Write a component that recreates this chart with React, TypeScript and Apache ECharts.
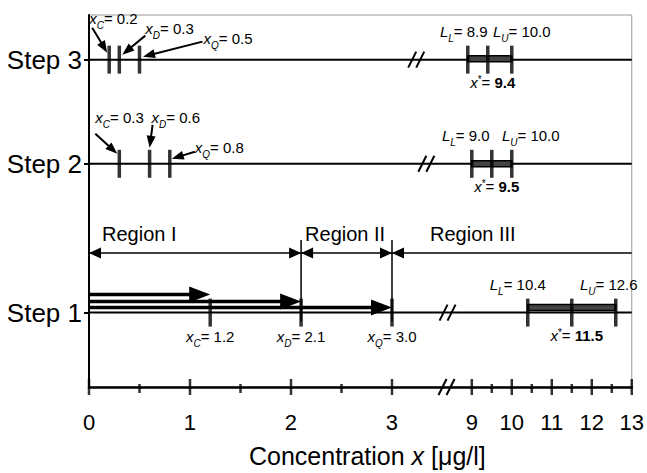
import React, { useEffect, useRef } from "react";
import * as echarts from "echarts";

// ---------------- data ----------------
const steps = ["Step 1", "Step 2", "Step 3"];
const xC = [1.2, 0.3, 0.2];
const xD = [2.1, 0.6, 0.3];
const xQ = [3.0, 0.8, 0.5];
const lowerLimit = [10.4, 9.0, 8.9];
const upperLimit = [12.6, 10.0, 10.0];
const xStar = [11.5, 9.5, 9.4];
const majorTicks = [0, 1, 2, 3, 9, 10, 11, 12, 13];
const minorTicks = [0.5, 1.5, 2.5, 9.5, 10.5, 11.5, 12.5];
const regionNames = ["Region I", "Region II", "Region III"];
const xMin = 0;
const xMax = 13;
const subNames = ["C", "D", "Q"];

// ---------------- layout (broken axis scale, rows, offsets) ----------------
const F = "'Liberation Sans', Arial, sans-serif";
const LOW_END = 3;
const HIGH_START = 9;
const U_HIGH_START = 3.79;
const HIGH_SCALE = 0.396;
const toU = (x: number) => (x <= LOW_END ? x : U_HIGH_START + (x - HIGH_START) * HIGH_SCALE);
const U_MIN = toU(xMin);
const U_MAX = toU(xMax);
const LEVEL = [20, 60, 88];
const REGION_LEVEL = 36;
const BREAK_U = [3.55, 3.34, 3.24];
const AXIS_BREAK_U = 3.54;

// label/arrow offsets (px) relative to tick centre, for Step 2 and Step 3
const ANNOT: any = {
  1: [
    { lx: -24, ly: -45, sx: -24, sy: -30, ex: -2, ey: -10 },
    { lx: 2, ly: -45, sx: 3, sy: -39, ex: 0, ey: -16 },
    { lx: 25, ly: -15, sx: 25, sy: -12, ex: 2, ey: -5 },
  ],
  2: [
    { lx: -20, ly: -40, sx: -17, sy: -32, ex: -2, ey: -7 },
    { lx: 26, ly: -30, sx: 26, sy: -24, ex: 3, ey: -5 },
    { lx: 64, ly: -20, sx: 63, sy: -18, ex: 3.5, ey: -3 },
  ],
};
const LL_DX = [-10, -6, -4];
const LU_DX = [-7, 19, 10];
const BAR_DY = [-5, 0, -1];
const S1_ARROW_DY = [-18, -11, -5];
const REGION_LABEL_DX = [13, 4, 38];

const rich: any = {
  n: { fontSize: 15, fontFamily: F, fill: "#000", lineHeight: 18, verticalAlign: "top" },
  i: { fontSize: 15, fontFamily: F, fontStyle: "italic", fill: "#000", lineHeight: 18, verticalAlign: "top" },
  b: { fontSize: 15, fontFamily: F, fontWeight: "bold", fill: "#000", lineHeight: 18, verticalAlign: "top" },
  sub: { fontSize: 10, fontFamily: F, fontStyle: "italic", fill: "#000", lineHeight: 10, padding: [10, 0, 0, 0], verticalAlign: "top" },
  sup: { fontSize: 10, fontFamily: F, fill: "#000", lineHeight: 10, verticalAlign: "top" },
};

function txt(x: number, cy: number, text: string, align: string) {
  return {
    type: "text",
    x,
    y: cy - 9,
    style: { text, rich, align, verticalAlign: "top", fill: "#000", fontFamily: F, fontSize: 15 },
  };
}

function arrow(sx: number, sy: number, ex: number, ey: number, head: number, halfW: number, lw: number) {
  const dx = ex - sx;
  const dy = ey - sy;
  const len = Math.hypot(dx, dy) || 1;
  const ux = dx / len;
  const uy = dy / len;
  const nx = -uy;
  const ny = ux;
  const bx = ex - ux * head;
  const by = ey - uy * head;
  return [
    { type: "line", shape: { x1: sx, y1: sy, x2: bx + ux * 2, y2: by + uy * 2 }, style: { stroke: "#000", lineWidth: lw } },
    {
      type: "polygon",
      shape: { points: [[ex, ey], [bx + nx * halfW, by + ny * halfW], [bx - nx * halfW, by - ny * halfW]] },
      style: { fill: "#000" },
    },
  ];
}

const majorLabel = (v: number) => {
  const t = majorTicks.find((m) => Math.abs(toU(m) - v) < 1e-6);
  return t === undefined ? "" : String(t);
};

function buildOption() {
  const series: any[] = [];

  // step base lines
  steps.forEach((s, i) => {
    series.push({
      type: "line",
      name: s,
      data: [[U_MIN, LEVEL[i]], [U_MAX, LEVEL[i]]],
      symbol: "none",
      lineStyle: { color: "#000", width: 2 },
      silent: true,
      z: 2,
    });
  });

  // step ticks
  series.push({
    type: "scatter",
    symbol: "rect",
    symbolSize: [3.5, 28],
    itemStyle: { color: "#000" },
    clip: false,
    silent: true,
    z: 6,
    data: steps.flatMap((s, i) =>
      [xC[i], xD[i], xQ[i], lowerLimit[i], xStar[i], upperLimit[i]].map((v) => [toU(v), LEVEL[i]])
    ),
  });

  // axis ticks
  series.push({
    type: "scatter",
    symbol: "rect",
    symbolSize: [2.5, 16],
    itemStyle: { color: "#000" },
    clip: false,
    silent: true,
    z: 6,
    data: majorTicks.map((t) => [toU(t), 0]),
  });
  series.push({
    type: "scatter",
    symbol: "rect",
    symbolSize: [2.5, 9],
    symbolOffset: [0, 1.5],
    itemStyle: { color: "#000" },
    clip: false,
    silent: true,
    z: 6,
    data: minorTicks.map((t) => [toU(t), 0]),
  });

  // interval bars and their labels
  series.push({
    type: "custom",
    silent: true,
    z: 4,
    data: steps.map((s, i) => [toU(lowerLimit[i]), toU(upperLimit[i]), toU(xStar[i]), LEVEL[i], i]),
    renderItem: (params: any, api: any) => {
      const lvl = api.value(3);
      const i = api.value(4);
      const p1 = api.coord([api.value(0), lvl]);
      const p2 = api.coord([api.value(1), lvl]);
      const ps = api.coord([api.value(2), lvl]);
      const y = p1[1] + BAR_DY[i];
      return {
        type: "group",
        children: [
          { type: "rect", shape: { x: p1[0], y: y - 3, width: p2[0] - p1[0], height: 6 }, style: { fill: "#444", stroke: "#000", lineWidth: 1.5 } },
          txt(p1[0] + LL_DX[i], p1[1] - 27, `{i|L}{sub|L}{n|= ${lowerLimit[i].toFixed(1)}}`, "center"),
          txt(p2[0] + LU_DX[i], p1[1] - 27, `{i|L}{sub|U}{n|= ${upperLimit[i].toFixed(1)}}`, "center"),
          txt(ps[0] + 5, p1[1] + 24, `{i|x}{sup|*}{n|= }{b|${xStar[i].toFixed(1)}}`, "center"),
        ],
      };
    },
  });

  // Step 2 / Step 3 annotations with arrows
  const annotData: any[] = [];
  [1, 2].forEach((si) => {
    [xC, xD, xQ].forEach((arr, k) => annotData.push([toU(arr[si]), LEVEL[si], si, k]));
  });
  series.push({
    type: "custom",
    silent: true,
    z: 7,
    data: annotData,
    renderItem: (params: any, api: any) => {
      const p = api.coord([api.value(0), api.value(1)]);
      const si = api.value(2);
      const k = api.value(3);
      const L = ANNOT[si][k];
      const v = [xC, xD, xQ][k][si];
      return {
        type: "group",
        children: [
          txt(p[0] + L.lx, p[1] + L.ly, `{i|x}{sub|${subNames[k]}}{n|= ${v.toFixed(1)}}`, "left"),
          ...arrow(p[0] + L.sx, p[1] + L.sy, p[0] + L.ex, p[1] + L.ey, 12, 4.5, 2),
        ],
      };
    },
  });

  // Step 1 labels below ticks and arrows from 0
  series.push({
    type: "custom",
    silent: true,
    z: 5,
    data: [xC, xD, xQ].map((arr, k) => [toU(arr[0]), LEVEL[0], k]),
    renderItem: (params: any, api: any) => {
      const p = api.coord([api.value(0), api.value(1)]);
      const p0 = api.coord([U_MIN, api.value(1)]);
      const k = api.value(2);
      const v = [xC, xD, xQ][k][0];
      const y = p[1] + S1_ARROW_DY[k];
      return {
        type: "group",
        children: [
          ...arrow(p0[0], y, p[0], y, 21, 8, 3.5),
          txt(p[0], p[1] + 25, `{i|x}{sub|${subNames[k]}}{n|= ${v.toFixed(1)}}`, "center"),
        ],
      };
    },
  });

  // regions
  const bounds = [xMin, xD[0], xQ[0], xMax];
  series.push({
    type: "custom",
    silent: true,
    z: 5,
    data: regionNames.map((n, i) => [toU(bounds[i]), toU(bounds[i + 1]), REGION_LEVEL, i]),
    renderItem: (params: any, api: any) => {
      const i = api.value(3);
      const p1 = api.coord([api.value(0), api.value(2)]);
      const p2 = api.coord([api.value(1), api.value(2)]);
      const children: any[] = [
        { type: "line", shape: { x1: p1[0], y1: p1[1], x2: p2[0], y2: p2[1] }, style: { stroke: "#000", lineWidth: 1.5 } },
        { type: "polygon", shape: { points: [[p1[0], p1[1]], [p1[0] + 12, p1[1] - 5.5], [p1[0] + 12, p1[1] + 5.5]] }, style: { fill: "#000" } },
        {
          type: "text",
          x: p1[0] + REGION_LABEL_DX[i],
          y: p1[1] - 19,
          style: { text: regionNames[i], fontSize: 20, fontFamily: F, fill: "#000", align: "left", verticalAlign: "middle" },
        },
      ];
      if (i < regionNames.length - 1) {
        children.push({ type: "polygon", shape: { points: [[p2[0], p2[1]], [p2[0] - 12, p2[1] - 5.5], [p2[0] - 12, p2[1] + 5.5]] }, style: { fill: "#000" } });
      }
      return { type: "group", children };
    },
  });

  // region boundary verticals
  series.push({
    type: "custom",
    silent: true,
    z: 5,
    data: [[toU(xD[0]), REGION_LEVEL], [toU(xQ[0]), REGION_LEVEL]],
    renderItem: (params: any, api: any) => {
      const top = api.coord([api.value(0), api.value(1)]);
      const bot = api.coord([api.value(0), LEVEL[0]]);
      return { type: "line", shape: { x1: top[0], y1: top[1] - 13, x2: bot[0], y2: bot[1] + 9 }, style: { stroke: "#000", lineWidth: 1.5 } };
    },
  });

  // break marks
  series.push({
    type: "custom",
    silent: true,
    z: 6,
    data: [...steps.map((s, i) => [BREAK_U[i], LEVEL[i]]), [AXIS_BREAK_U, 0]],
    renderItem: (params: any, api: any) => {
      const p = api.coord([api.value(0), api.value(1)]);
      return {
        type: "group",
        children: [-4, 4].map((d) => ({
          type: "line",
          shape: { x1: p[0] + d - 4, y1: p[1] + 8, x2: p[0] + d + 4, y2: p[1] - 8 },
          style: { stroke: "#000", lineWidth: 2 },
        })),
      };
    },
  });

  return {
    animation: false,
    backgroundColor: "#fff",
    grid: { left: 89, top: 15, right: 15, bottom: 79, show: true, borderColor: "#999", borderWidth: 1 },
    xAxis: {
      type: "value",
      min: U_MIN,
      max: U_MAX,
      axisLine: { show: true, lineStyle: { color: "#000", width: 2.5 } },
      axisTick: { show: false },
      splitLine: { show: false },
      axisLabel: {
        customValues: majorTicks.map(toU),
        formatter: majorLabel,
        fontSize: 22,
        color: "#000",
        fontFamily: F,
        margin: 24,
      },
      name: "{a|Concentration }{i|x}{a| [μg/l]}",
      nameLocation: "middle",
      nameGap: 56,
      nameTextStyle: {
        padding: [0, 0, 0, 14],
        rich: {
          a: { fontSize: 25, fontFamily: F, color: "#000", lineHeight: 25 },
          i: { fontSize: 25, fontFamily: F, fontStyle: "italic", color: "#000", lineHeight: 25 },
        },
      },
    },
    yAxis: {
      type: "value",
      min: 0,
      max: 100,
      axisLine: { show: true, lineStyle: { color: "#000", width: 2 } },
      axisTick: { show: true, customValues: LEVEL, length: 5, lineStyle: { color: "#000", width: 2 } },
      axisLabel: {
        customValues: LEVEL,
        formatter: (v: number) => steps[LEVEL.indexOf(v)] || "",
        fontSize: 26,
        color: "#000",
        fontFamily: F,
        margin: 7,
      },
      splitLine: { show: false },
    },
    series,
  };
}

export default function App() {
  const ref = useRef<HTMLDivElement>(null);
  useEffect(() => {
    document.body.style.margin = "0";
    const chart = echarts.init(ref.current as HTMLDivElement, null, { renderer: "svg" });
    chart.setOption(buildOption() as any);
    return () => chart.dispose();
  }, []);
  return <div ref={ref} style={{ width: 647, height: 473, background: "#fff" }} />;
}
